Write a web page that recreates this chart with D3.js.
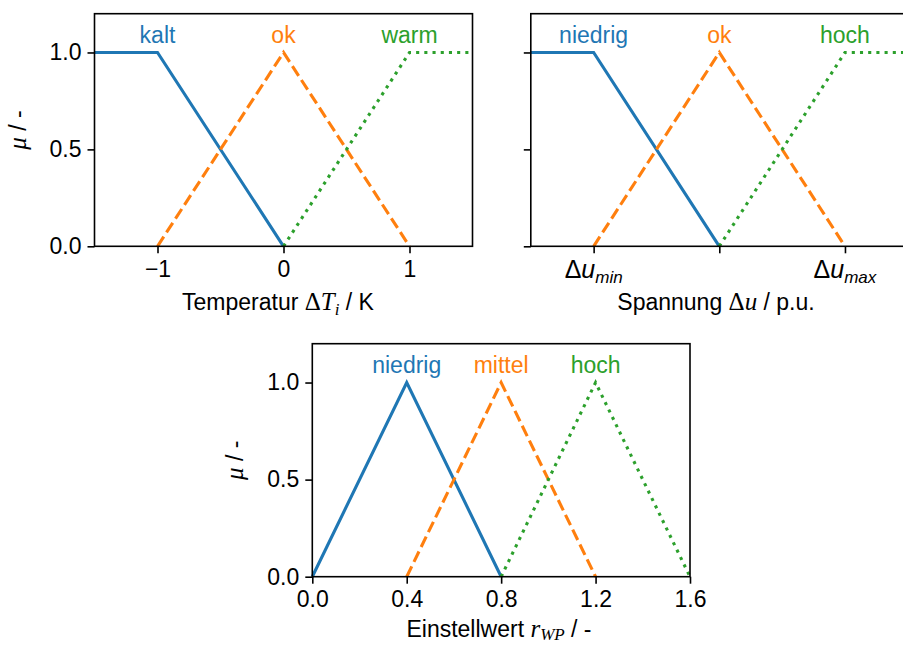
<!DOCTYPE html>
<html><head><meta charset="utf-8">
<script src="https://cdn.jsdelivr.net/npm/d3@7"></script>
<style>
html,body{margin:0;padding:0;background:#fff;}
svg{display:block;}
text{font-family:"Liberation Sans",Arial,sans-serif;}
</style></head>
<body>
<svg id="c" width="903" height="646"></svg>
<script>
// ---- data ----
const yTicks = [0, 0.5, 1.0];
const tempTicks = [-1, 0, 1];
const voltTicks = [-1, 0, 1];
const voltTickSubs = ["min", "", "max"];
const rTicks = [0, 0.4, 0.8, 1.2, 1.6];

const tempNames = ["kalt", "ok", "warm"];
const tempX = [[-1.5, -1, 0], [-1, 0, 1], [0, 1, 1.5]];
const tempY = [[1, 1, 0], [0, 1, 0], [0, 1, 1]];
const tempLabelX = [-1, 0, 1];

const voltNames = ["niedrig", "ok", "hoch"];
const voltX = [[-1.5, -1, 0], [-1, 0, 1], [0, 1, 1.5]];
const voltY = [[1, 1, 0], [0, 1, 0], [0, 1, 1]];
const voltLabelX = [-1, 0, 1];

const rNames = ["niedrig", "mittel", "hoch"];
const rX = [[0, 0.4, 0.8], [0.4, 0.8, 1.2], [0.8, 1.2, 1.6]];
const rY = [[0, 1, 0], [0, 1, 0], [0, 1, 0]];
const rLabelX = [0.4, 0.8, 1.2];

const colors = ["#1f77b4", "#ff7f0e", "#2ca02c"];
const dashes = [null, "11.5,5", "3.1,5.1"];

// ---- drawing ----
const svg = d3.select("#c");
const FS = 23, MFS = 25, SFS = 17, LW = 3.1, SW = 1.6;

function panel(o) {
  const x = d3.scaleLinear().domain(o.xdom).range([o.x0, o.x1]);
  const y = d3.scaleLinear().domain([0, 1.2]).range([o.y1, o.y0]);
  const g = svg.append("g");
  const line = d3.line().x(d => x(d[0])).y(d => y(d[1]));
  o.xs.forEach((xs, i) => {
    const pts = xs.map((v, j) => [v, o.ys[i][j]]);
    const p = g.append("path").attr("d", line(pts)).attr("fill", "none")
      .attr("stroke", colors[i]).attr("stroke-width", LW)
      .attr("stroke-linejoin", "miter");
    if (dashes[i]) p.attr("stroke-dasharray", dashes[i]);
  });
  o.names.forEach((n, i) => {
    g.append("text").attr("x", x(o.labelX[i])).attr("y", y(1.05))
      .attr("text-anchor", "middle").attr("font-size", FS).attr("fill", colors[i]).text(n);
  });
  g.append("rect").attr("x", o.x0).attr("y", o.y0).attr("width", o.x1 - o.x0).attr("height", o.y1 - o.y0)
    .attr("fill", "none").attr("stroke", "#000").attr("stroke-width", SW);
  const ya = d3.axisLeft(y).tickValues(yTicks).tickSize(7).tickPadding(6)
    .tickFormat(o.yLabels ? d3.format(".1f") : () => "");
  const yg = g.append("g").attr("transform", `translate(${o.x0},0)`).call(ya);
  yg.select(".domain").remove();
  yg.selectAll(".tick line").attr("stroke-width", SW);
  yg.selectAll(".tick text").attr("font-size", FS).attr("font-family", "Liberation Sans, Arial, sans-serif").attr("fill", "#000");
  const xa = d3.axisBottom(x).tickValues(o.xticks).tickSize(7).tickPadding(7)
    .tickFormat(o.xfmt);
  const xg = g.append("g").attr("transform", `translate(0,${o.y1})`).call(xa);
  xg.select(".domain").remove();
  xg.selectAll(".tick line").attr("stroke-width", SW);
  xg.selectAll(".tick text").attr("font-size", FS).attr("font-family", "Liberation Sans, Arial, sans-serif").attr("fill", "#000");
  if (o.yLabels) {
    const yl = g.append("text")
      .attr("transform", `translate(${o.x0 - 69},${(o.y0 + o.y1) / 2}) rotate(-90)`)
      .attr("text-anchor", "middle").attr("font-size", FS);
    yl.append("tspan").attr("font-family", "Liberation Serif, serif").attr("font-style", "italic").attr("font-size", MFS).text("μ");
    yl.append("tspan").text(" / -");
  }
  return {x, y, g};
}

// Panel 1
const p1 = panel({x0: 94.5, x1: 472.5, y0: 13.7, y1: 246.3, xdom: [-1.5, 1.5],
  xs: tempX, ys: tempY, names: tempNames, labelX: tempLabelX, yLabels: true,
  xticks: tempTicks, xfmt: d => d < 0 ? "\u2212" + Math.abs(d) : String(d)});
{
  const t = p1.g.append("text").attr("x", 278).attr("y", 310).attr("text-anchor", "middle").attr("font-size", FS);
  t.append("tspan").text("Temperatur ");
  t.append("tspan").attr("font-family", "Liberation Serif, serif").attr("font-size", MFS).text("Δ");
  t.append("tspan").attr("font-family", "Liberation Serif, serif").attr("font-style", "italic").attr("font-size", MFS).text("T");
  t.append("tspan").attr("font-family", "Liberation Serif, serif").attr("font-style", "italic").attr("font-size", SFS).attr("dy", 5).text("i");
  t.append("tspan").attr("dy", -5).text(" / K");
}

// Panel 2
const p2 = panel({x0: 530.8, x1: 907.8, y0: 13.7, y1: 246.3, xdom: [-1.5, 1.5],
  xs: voltX, ys: voltY, names: voltNames, labelX: voltLabelX, yLabels: false,
  xticks: voltTicks, xfmt: () => ""});
voltTicks.forEach((v, i) => {
  if (!voltTickSubs[i]) return;
  const t = p2.g.append("text").attr("x", p2.x(v)).attr("y", 278).attr("text-anchor", "middle")
    .attr("font-family", "Liberation Serif, serif").attr("font-size", MFS);
  t.append("tspan").text("Δ");
  t.append("tspan").attr("font-style", "italic").text("u");
  t.append("tspan").attr("font-style", "italic").attr("font-size", SFS).attr("dy", 5).text(voltTickSubs[i]);
});
{
  const t = p2.g.append("text").attr("x", 716).attr("y", 310).attr("text-anchor", "middle").attr("font-size", FS);
  t.append("tspan").text("Spannung ");
  t.append("tspan").attr("font-family", "Liberation Serif, serif").attr("font-size", MFS).text("Δ");
  t.append("tspan").attr("font-family", "Liberation Serif, serif").attr("font-style", "italic").attr("font-size", MFS).text("u");
  t.append("tspan").text(" / p.u.");
}

// Panel 3
const p3 = panel({x0: 312.3, x1: 690, y0: 343.7, y1: 576.7, xdom: [0, 1.6],
  xs: rX, ys: rY, names: rNames, labelX: rLabelX, yLabels: true,
  xticks: rTicks, xfmt: d3.format(".1f")});
{
  const t = p3.g.append("text").attr("x", 499).attr("y", 637).attr("text-anchor", "middle").attr("font-size", FS);
  t.append("tspan").text("Einstellwert ");
  t.append("tspan").attr("font-family", "Liberation Serif, serif").attr("font-style", "italic").attr("font-size", MFS).text("r");
  t.append("tspan").attr("font-family", "Liberation Serif, serif").attr("font-style", "italic").attr("font-size", SFS).attr("dy", 3).text("WP");
  t.append("tspan").attr("dy", -3).text(" / -");
}
</script>
</body></html>
